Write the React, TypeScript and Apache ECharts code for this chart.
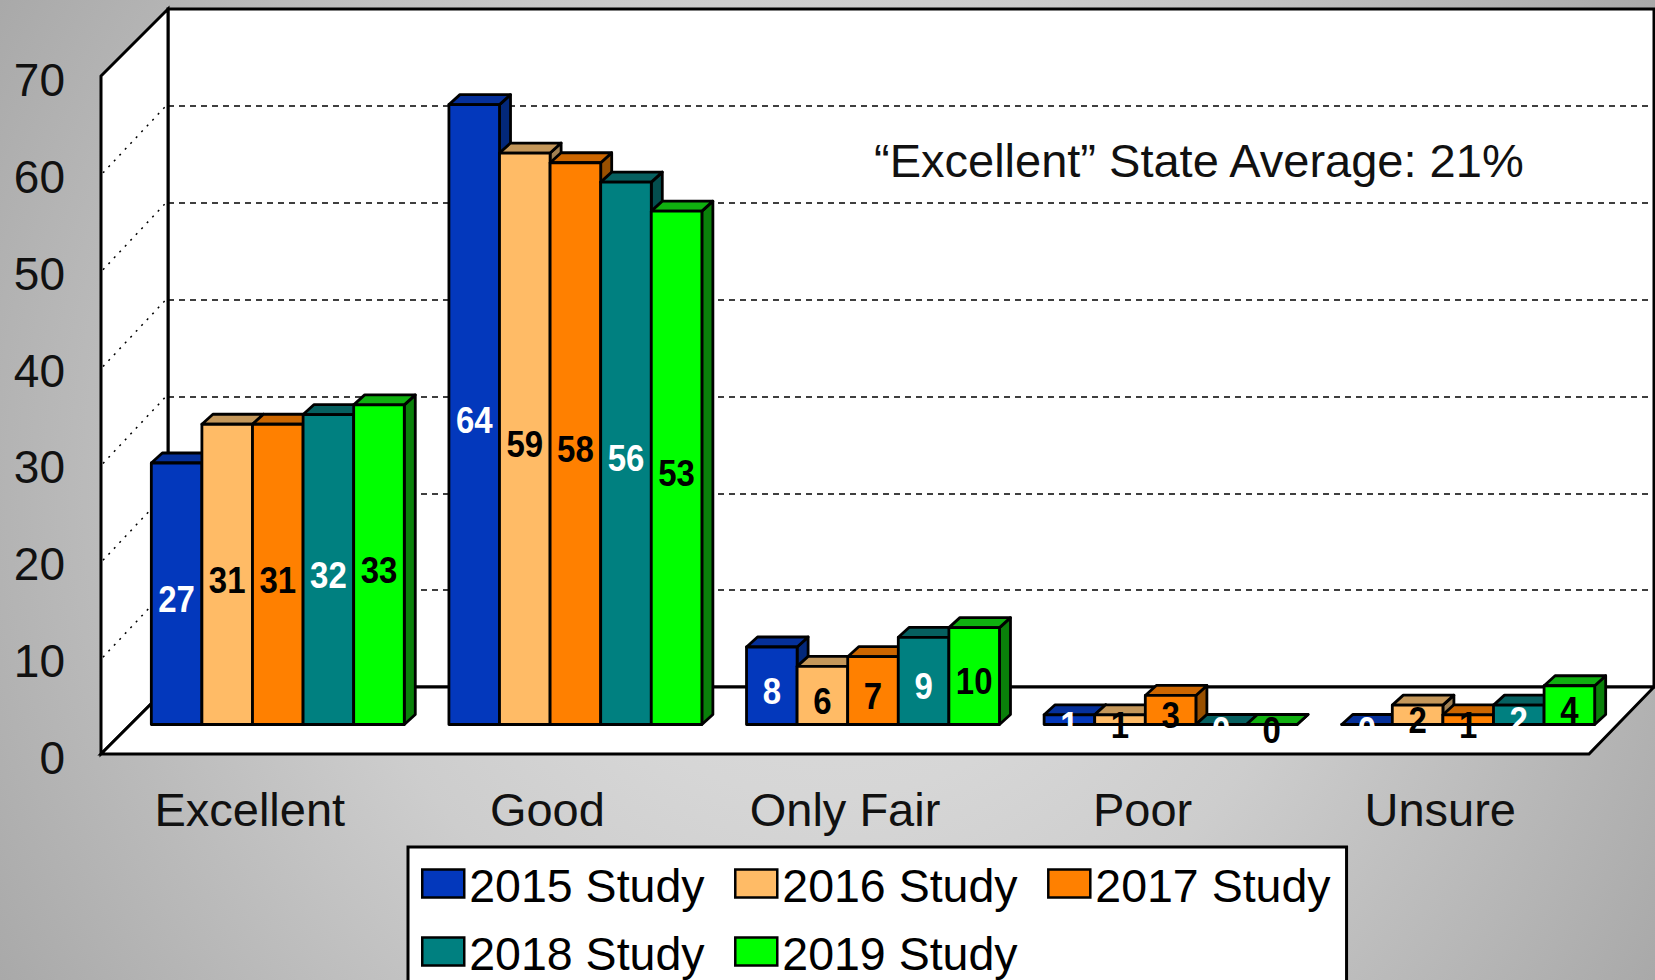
import React, { useEffect, useRef } from "react";
import * as echarts from "echarts";

const categories = ["Excellent", "Good", "Only Fair", "Poor", "Unsure"];
const seriesNames = ["2015 Study", "2016 Study", "2017 Study", "2018 Study", "2019 Study"];
const v2015 = [27, 64, 8, 1, 0];
const v2016 = [31, 59, 6, 1, 2];
const v2017 = [31, 58, 7, 3, 1];
const v2018 = [32, 56, 9, 0, 2];
const v2019 = [33, 53, 10, 0, 4];
const seriesValues = [v2015, v2016, v2017, v2018, v2019];
const frontColors = ["#0338BC", "#FFBB66", "#FF8000", "#008080", "#00FF00"];
const topColors = ["#05309A", "#C4975A", "#CC6600", "#066060", "#10B010"];
const sideColors = ["#03287A", "#A08052", "#995000", "#044E4E", "#0A800A"];
const labelColors = ["#FFFFFF", "#000000", "#000000", "#FFFFFF", "#000000"];
const annotation = "\u201CExcellent\u201D State Average: 21%";
const yTicks = [10, 20, 30, 40, 50, 60];

const FONT = '"Liberation Sans", Arial, sans-serif';
const FL = 101, FB = 754, FT = 76, FR = 1589; // front plane
const BL = 168, BB = 687, BT = 9, BR = 1654; // back plane
const OFFX = 28, OFFY = -29.5, DX = 11, DY = 10, STROKE = 2.8;

function renderBar(params: any, api: any) {
  const si = params.seriesIndex;
  const cat = api.value(0);
  const val = api.value(1);
  const top = api.coord([cat, val]);
  const base = api.coord([cat, 0]);
  const w = api.size([1, 0])[0] * 0.17;
  const x = top[0] + OFFX + (si - 2.5) * w;
  const y = top[1] + OFFY;
  const b = base[1] + OFFY;
  const line = { stroke: "#000", lineWidth: STROKE, lineJoin: "round" };
  return {
    type: "group",
    children: [
      {
        type: "polygon",
        shape: { points: [[x + w, y], [x + w + DX, y - DY], [x + w + DX, b - DY], [x + w, b]] },
        style: { fill: sideColors[si], ...line },
      },
      {
        type: "polygon",
        shape: { points: [[x, y], [x + DX, y - DY], [x + w + DX, y - DY], [x + w, y]] },
        style: { fill: topColors[si], ...line },
      },
      {
        type: "rect",
        shape: { x, y, width: w, height: b - y },
        style: { fill: frontColors[si], ...line },
      },
      {
        type: "text",
        z2: 10,
        x: x + w / 2,
        y: (y + b) / 2 + 5,
        scaleY: 1.12,
        style: {
          x: 0,
          y: 0,
          text: String(val),
          align: "center",
          verticalAlign: "middle",
          fill: labelColors[si],
          font: `bold 33px ${FONT}`,
        },
      },
    ],
  };
}

const legendBase = {
  itemWidth: 42,
  itemHeight: 28,
  itemGap: 29.5,
  icon: "rect",
  selectedMode: false,
  itemStyle: { borderColor: "#000", borderWidth: 2.5 },
  formatter: "{t|{name}}",
  textStyle: {
    color: "#000",
    fontFamily: FONT,
    fontSize: 46.5,
    rich: {
      t: { fontSize: 46.5, fontFamily: FONT, color: "#000", lineHeight: 51, verticalAlign: "bottom" },
    },
  },
};

export default function App() {
  const ref = useRef<HTMLDivElement>(null);
  useEffect(() => {
    document.body.style.margin = "0";
    document.body.style.overflow = "hidden";
    const chart = echarts.init(ref.current!, undefined, { renderer: "svg" });
    const frontY = (v: number) => FB - (v * (FB - FT)) / 70;
    const wallLine = { stroke: "#000", lineWidth: 3, lineJoin: "miter" };
    chart.setOption({
      animation: false,
      backgroundColor: new echarts.graphic.RadialGradient(
        827,
        490,
        960,
        [
          { offset: 0, color: "#DEDEDE" },
          { offset: 0.32, color: "#D6D6D6" },
          { offset: 0.52, color: "#CDCDCD" },
          { offset: 1, color: "#A9A9A9" },
        ],
        true
      ),
      textStyle: { fontFamily: FONT },
      legend: [
        {
          ...legendBase,
          data: seriesNames.slice(0, 3),
          left: 408,
          top: 847,
          width: 938,
          padding: [15, 16, 90, 13],
          backgroundColor: "#FFFFFF",
          borderColor: "#000000",
          borderWidth: 3,
        },
        {
          ...legendBase,
          data: seriesNames.slice(3),
          left: 421,
          top: 930,
          padding: 0,
          z: 5,
        },
      ],
      grid: [
        { left: FL, top: FT, width: FR - FL, height: FB - FT },
        {
          left: BL,
          top: BT,
          width: BR - BL,
          height: BB - BT,
          show: true,
          backgroundColor: "#FFFFFF",
          borderColor: "#000000",
          borderWidth: 3,
        },
      ],
      xAxis: [
        {
          type: "category",
          gridIndex: 0,
          data: categories,
          axisLine: { show: false },
          axisTick: { show: false },
          axisLabel: { fontSize: 47, color: "#111", margin: 32, fontFamily: FONT },
        },
        { type: "category", gridIndex: 1, show: false, data: categories },
      ],
      yAxis: [
        {
          type: "value",
          gridIndex: 0,
          min: 0,
          max: 70,
          interval: 10,
          axisLine: { show: false },
          axisTick: { show: false },
          splitLine: { show: false },
          axisLabel: {
            fontSize: 46,
            color: "#111",
            margin: 36,
            fontFamily: FONT,
            verticalAlign: "top",
            padding: [-19, 0, 0, 0],
          },
        },
        {
          type: "value",
          gridIndex: 1,
          min: 0,
          max: 70,
          interval: 10,
          axisLine: { show: false },
          axisTick: { show: false },
          axisLabel: { show: false },
          splitLine: { show: true, lineStyle: { color: "#000", width: 1.6, type: [6, 5] } },
        },
      ],
      graphic: [
        {
          type: "polygon",
          z: 1,
          shape: { points: [[FL, FT], [BL, BT], [BL, BB], [FL, FB]] },
          style: { fill: "#FFF", ...wallLine },
        },
        {
          type: "polygon",
          z: 1,
          shape: { points: [[FL, FB], [BL, BB], [BR, BB], [FR, FB]] },
          style: { fill: "#FFF", ...wallLine },
        },
        ...yTicks.map((t) => ({
          type: "line",
          z: 1,
          shape: { x1: FL + 2, y1: frontY(t), x2: BL - 2, y2: frontY(t) - (BL - FL) },
          style: { stroke: "#000", lineWidth: 1.5, lineDash: [2, 6] },
        })),
        {
          type: "text",
          z: 1,
          x: 874,
          y: 160,
          style: { text: annotation, font: `47px ${FONT}`, fill: "#111", verticalAlign: "middle" },
        },
      ],
      series: seriesNames.map((name, si) => ({
        name,
        type: "custom",
        xAxisIndex: 0,
        yAxisIndex: 0,
        z: 3,
        itemStyle: { color: frontColors[si] },
        renderItem: renderBar,
        encode: { x: 0, y: 1 },
        data: seriesValues[si].map((v, c) => [c, v]),
      })),
    });
    return () => chart.dispose();
  }, []);
  return <div ref={ref} style={{ position: "absolute", left: 0, top: 0, width: 1655, height: 980 }} />;
}
